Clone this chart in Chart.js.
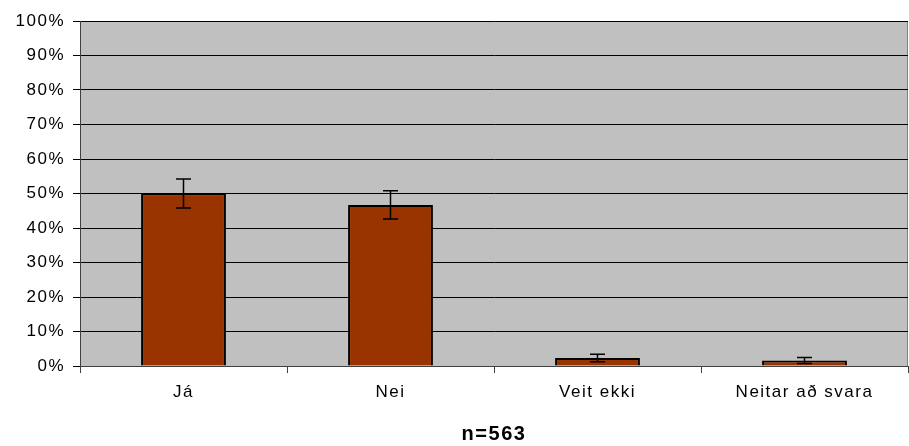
<!DOCTYPE html>
<html>
<head>
<meta charset="utf-8">
<script src="https://cdn.jsdelivr.net/npm/chart.js@4/dist/chart.umd.min.js"></script>
<style>
html,body{margin:0;padding:0;background:#fff;}
#wrap{width:909px;height:446px;}
</style>
</head>
<body>
<div id="wrap"><canvas id="c" width="909" height="446"></canvas></div>
<script>
const categories = ['Já', 'Nei', 'Veit ekki', 'Neitar að svara'];
const values = [50.0, 46.7, 2.3, 1.6];
const errors = [4.2, 4.1, 1.1, 0.9];
const yTicks = [0, 10, 20, 30, 40, 50, 60, 70, 80, 90, 100];
const xTitle = 'n=563';

const bgPlugin = {
  id: 'plotBg',
  beforeDraw(chart) {
    const {ctx, chartArea: a} = chart;
    ctx.save();
    ctx.fillStyle = '#C0C0C0';
    ctx.fillRect(a.left, a.top, a.right - a.left, a.bottom - a.top);
    ctx.strokeStyle = '#808080';
    ctx.lineWidth = 1;
    ctx.strokeRect(a.left + 0.5, a.top + 0.5, a.right - a.left - 1, a.bottom - a.top);
    ctx.restore();
    ctx.letterSpacing = '1.5px';
  }
};

const errPlugin = {
  id: 'errBars',
  afterDatasetsDraw(chart) {
    const {ctx} = chart;
    const meta = chart.getDatasetMeta(0);
    const ys = chart.scales.y;
    ctx.save();
    ctx.strokeStyle = '#000';
    ctx.lineWidth = 1.5;
    meta.data.forEach((bar, i) => {
      const x = bar.x;
      const t = ys.getPixelForValue(values[i] + errors[i]);
      const b = ys.getPixelForValue(Math.max(0, values[i] - errors[i]));
      ctx.beginPath();
      ctx.moveTo(x, t); ctx.lineTo(x, b);
      ctx.moveTo(x - 7.5, t); ctx.lineTo(x + 7.5, t);
      ctx.moveTo(x - 7.5, b); ctx.lineTo(x + 7.5, b);
      ctx.stroke();
    });
    ctx.restore();
  }
};

new Chart(document.getElementById('c'), {
  type: 'bar',
  data: {
    labels: categories,
    datasets: [{
      data: values,
      backgroundColor: '#993300',
      borderColor: '#000000',
      borderWidth: 2,
      barPercentage: 0.41,
      categoryPercentage: 1.0
    }]
  },
  options: {
    responsive: false,
    animation: false,
    devicePixelRatio: 1,
    layout: {padding: {top: 21, right: 1, bottom: 0, left: 0}},
    plugins: {legend: {display: false}, tooltip: {enabled: false}, title: {display: false}},
    scales: {
      x: {
        offset: true,
        afterFit(s) { s.height = 80; },
        grid: {display: true, drawOnChartArea: false, offset: true, color: '#404040', tickLength: 7},
        border: {display: true, color: '#404040', width: 1},
        ticks: {color: '#000', font: {family: 'Liberation Sans, Arial, sans-serif', size: 17}, padding: 9},
        title: {display: true, text: xTitle, color: '#000', font: {family: 'Liberation Sans, Arial, sans-serif', size: 20, weight: 'bold'}, padding: {top: 0, bottom: 0}}
      },
      y: {
        min: 0, max: 100,
        afterFit(s) { s.width = 80; },
        afterBuildTicks(s) { s.ticks = yTicks.map(v => ({value: v})); },
        grid: {color: '#000000', lineWidth: 1, tickLength: 7},
        border: {display: true, color: '#404040', width: 1},
        ticks: {color: '#000', font: {family: 'Liberation Sans, Arial, sans-serif', size: 17}, padding: 8,
          callback: v => v + '%'}
      }
    }
  },
  plugins: [bgPlugin, errPlugin]
});
</script>
</body>
</html>
